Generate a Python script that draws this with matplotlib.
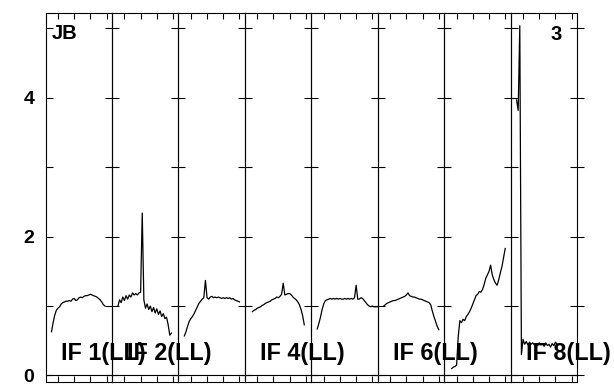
import numpy as np
import matplotlib
matplotlib.use("Agg")
import matplotlib.pyplot as plt

plt.rcParams['font.family'] = ['Liberation Sans', 'DejaVu Sans']
plt.rcParams['font.weight'] = 'bold'

# spectra per IF (channel start + amplitudes, one value per channel)
chan_start = [6, 6, 6, 7, 6, 6, 7, 6]
amp_if1 = [0.63, 0.76, 0.87, 0.94, 0.97, 0.99, 1.03, 1.05, 1.06, 1.07, 1.07, 1.08,
           1.07, 1.10, 1.11, 1.08, 1.09, 1.12, 1.13, 1.12, 1.14, 1.15, 1.15, 1.16,
           1.17, 1.16, 1.15, 1.14, 1.13, 1.11, 1.09, 1.06, 1.02, 1.00]
amp_if2 = [1.00, 1.09, 1.05, 1.13, 1.08, 1.15, 1.10, 1.16, 1.13, 1.19, 1.16, 1.18,
           1.16, 1.19, 1.20, 2.34, 1.09, 0.97, 1.03, 0.95, 1.00, 0.92, 0.98, 0.90,
           0.96, 0.88, 0.93, 0.85, 0.89, 0.82, 0.84, 0.73, 0.58, 0.61]
amp_if3 = [0.57, 0.63, 0.71, 0.78, 0.82, 0.85, 0.89, 0.94, 0.99, 1.04, 1.07, 1.10,
           1.12, 1.37, 1.12, 1.10, 1.13, 1.14, 1.12, 1.13, 1.12, 1.13, 1.12, 1.11,
           1.12, 1.11, 1.12, 1.11, 1.12, 1.10, 1.11, 1.09, 1.08, 1.07, 1.06]
amp_if4 = [0.92, 0.94, 0.95, 0.97, 0.98, 0.99, 1.01, 1.02, 1.04, 1.05, 1.06, 1.07,
           1.09, 1.10, 1.11, 1.13, 1.12, 1.14, 1.17, 1.33, 1.16, 1.17, 1.18, 1.18,
           1.16, 1.13, 1.11, 1.09, 1.06, 1.02, 0.95, 0.86, 0.73]
amp_if5 = [0.67, 0.75, 0.84, 0.95, 1.03, 1.08, 1.09, 1.10, 1.11, 1.10, 1.11, 1.10,
           1.11, 1.10, 1.11, 1.10, 1.10, 1.11, 1.10, 1.11, 1.10, 1.11, 1.10, 1.12,
           1.30, 1.10, 1.10, 1.12, 1.11, 1.08, 1.05, 1.02, 1.00, 0.99, 1.00, 0.99,
           0.99, 0.99]
amp_if6 = [1.00, 1.02, 1.04, 1.05, 1.06, 1.07, 1.08, 1.08, 1.09, 1.10, 1.11, 1.12,
           1.13, 1.14, 1.16, 1.19, 1.15, 1.14, 1.13, 1.13, 1.12, 1.11, 1.10, 1.10,
           1.09, 1.08, 1.07, 1.06, 1.05, 1.02, 0.93, 0.85, 0.78, 0.71, 0.66]
amp_if7 = [0.10, 0.12, 0.13, 0.15, 0.56, 0.79, 0.76, 0.81, 0.79, 0.85, 0.88, 0.92,
           0.97, 1.03, 1.09, 1.15, 1.17, 1.21, 1.20, 1.24, 1.31, 1.40, 1.45, 1.50,
           1.59, 1.45, 1.38, 1.33, 1.30, 1.38, 1.48, 1.57, 1.70, 1.83]
amp_if8 = [3.97, 3.82, 5.04, 0.30, 0.52, 0.45, 0.49, 0.44, 0.48, 0.45, 0.47, 0.44,
           0.46, 0.43, 0.47, 0.44, 0.46, 0.42, 0.47, 0.43, 0.45, 0.41, 0.46, 0.43,
           0.48, 0.45]
amps = [amp_if1, amp_if2, amp_if3, amp_if4, amp_if5, amp_if6, amp_if7, amp_if8]

# AIPS only labels some IFs (the others would collide)
if_labels = ["IF 1(LL)", "IF 2(LL)", "", "IF 4(LL)", "", "IF 6(LL)", "", "IF 8(LL)"]
yticks = [0, 1, 2, 3, 4, 5]
ytick_labels = ["0", "", "2", "", "4", ""]
xticks = [10, 20, 30, 40]

W, H = 614, 384
fig, axes = plt.subplots(1, 8, sharey=True, figsize=(W / 100, H / 100), dpi=100,
                         gridspec_kw={'wspace': 0})
fig.subplots_adjust(left=45.5 / W, right=577 / W, top=1 - 13 / H, bottom=1 - 382 / H)

for i, ax in enumerate(axes):
    ch = np.arange(chan_start[i], chan_start[i] + len(amps[i]))
    ax.plot(ch, amps[i], color='black', lw=0.9)
    ax.axhline(0, color='black', lw=0.8)
    ax.set_facecolor('none')
    ax.set_xlim(2.3, 43.3)
    ax.set_ylim(-0.094, 5.223)
    ax.set_xticks(xticks)
    ax.set_xticklabels([])
    ax.tick_params(axis='x', which='both', direction='in', top=True, bottom=True,
                   length=4, width=0.8)
    ax.set_yticks(yticks)
    for sp in ax.spines.values():
        sp.set_linewidth(0.8)
    if i == 0:
        ax.set_yticklabels(ytick_labels, fontsize=14, fontweight='bold')
        ax.tick_params(axis='y', direction='in', length=5, width=0.8, pad=8)
    else:
        ax.tick_params(axis='y', direction='inout', length=10, width=0.8,
                       labelleft=False)
    if i == 7:
        ax.tick_params(axis='y', right=True, direction='inout', length=10)
    if if_labels[i]:
        ax.text(11.9, 0.22, if_labels[i], fontsize=16.8, fontweight='bold',
                va='baseline', ha='left', clip_on=False, zorder=5)

fig.text(51.7 / W, 1 - 39.3 / H, "JB", fontsize=14.5, fontweight='bold', va='baseline')
fig.text(561.7 / W, 1 - 40 / H, "3", fontsize=14.5, fontweight='bold',
         va='baseline', ha='right')

fig.savefig("out.png", dpi=100)
